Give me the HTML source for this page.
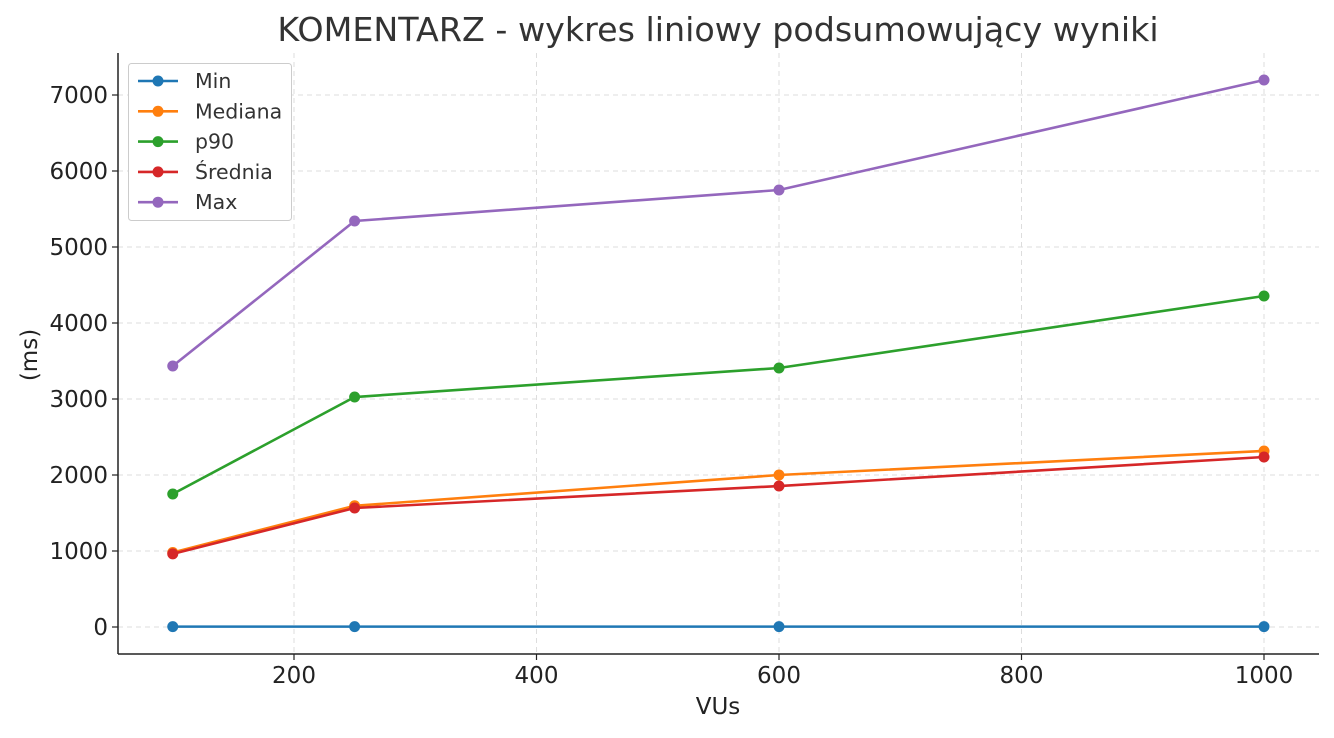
<!DOCTYPE html>
<html><head><meta charset="utf-8"><style>
body{margin:0;background:#fff;font-family:"Liberation Sans","DejaVu Sans",sans-serif}
</style></head><body>
<svg width="1334" height="733" xmlns="http://www.w3.org/2000/svg" font-family="DejaVu Sans, Liberation Sans, sans-serif">
<g id="grid"></g>
<g id="series"></g>
<g id="axes"></g>
<text x="718" y="41" text-anchor="middle" font-size="33.3" fill="#333">KOMENTARZ - wykres liniowy podsumowujący wyniki</text>
<text x="718" y="714" text-anchor="middle" font-size="23" fill="#222">VUs</text>
<text transform="translate(37,355) rotate(-90)" text-anchor="middle" font-size="23" fill="#222">(ms)</text>
<g id="legend"></g>
</svg>
<script>
const xs=[100,250,600,1000];
const seriesNames=["Min","Mediana","p90","Średnia","Max"];
const colors=["#1f77b4","#ff7f0e","#2ca02c","#d62728","#9467bd"];
const minVals=[5,5,5,5];
const medianVals=[980,1595,2000,2316];
const p90Vals=[1750,3026,3408,4355];
const avgVals=[962,1566,1855,2237];
const maxVals=[3434,5342,5750,7197];
const xTicks=[200,400,600,800,1000];
const yTicks=[0,1000,2000,3000,4000,5000,6000,7000];
const order=[minVals,medianVals,p90Vals,avgVals,maxVals];
const L=118,R=1319,T=53,B=654;
const X=v=>172.75+(v-100)*1.2125;
const Y=v=>627-v*0.076;
const NS="http://www.w3.org/2000/svg";
function mk(t,a,p){const e=document.createElementNS(NS,t);for(const k in a)e.setAttribute(k,a[k]);p.appendChild(e);return e;}
const grid=document.getElementById('grid'),ax=document.getElementById('axes'),sg=document.getElementById('series'),lg=document.getElementById('legend');
xTicks.forEach(t=>{const x=X(t);
 const g=mk('line',{x1:x,x2:x,y1:T,y2:B,stroke:'#ddd','stroke-dasharray':'5,4','stroke-width':1},grid);
 
 const tk=mk('line',{x1:x,x2:x,y1:B,y2:B+6,stroke:'#222','stroke-width':1.2},ax);
 
 const tx=mk('text',{x:x,y:B+29,'text-anchor':'middle','font-size':23,fill:'#222'},ax);tx.textContent=t;
 });
yTicks.forEach(t=>{const y=Y(t);
 const g=mk('line',{x1:L,x2:R,y1:y,y2:y,stroke:'#ddd','stroke-dasharray':'5,4','stroke-width':1},grid);
 
 const tk=mk('line',{x1:L-6,x2:L,y1:y,y2:y,stroke:'#222','stroke-width':1.2},ax);
 
 const tx=mk('text',{x:L-10,y:y+8,'text-anchor':'end','font-size':23,fill:'#222'},ax);tx.textContent=t;
 });
const sp1=mk('line',{x1:L,x2:L,y1:T,y2:B,stroke:'#222','stroke-width':1.5},ax);

const sp2=mk('line',{x1:L,x2:R,y1:B,y2:B,stroke:'#222','stroke-width':1.5},ax);

order.forEach((vals,i)=>{
 const pl=mk('polyline',{points:vals.map((v,j)=>X(xs[j])+','+Y(v)).join(' '),fill:'none',stroke:colors[i],'stroke-width':2.6},sg);
 
 vals.forEach((v,j)=>{const c=mk('circle',{cx:X(xs[j]),cy:Y(v),r:5.5,fill:colors[i]},sg);
  });
});
const box=mk('rect',{x:128.5,y:63.5,width:163,height:157,rx:3,fill:'#fff',stroke:'#ccc'},lg);

seriesNames.forEach((n,i)=>{const y=81+i*30.3;
 const l=mk('line',{x1:138,x2:178,y1:y,y2:y,stroke:colors[i],'stroke-width':2.6},lg);
 
 const c=mk('circle',{cx:158,cy:y,r:5.5,fill:colors[i]},lg);
 
 const t=mk('text',{x:195,y:y+7,'font-size':20.5,fill:'#333'},lg);t.textContent=n;
 });
</script>
</body></html>
